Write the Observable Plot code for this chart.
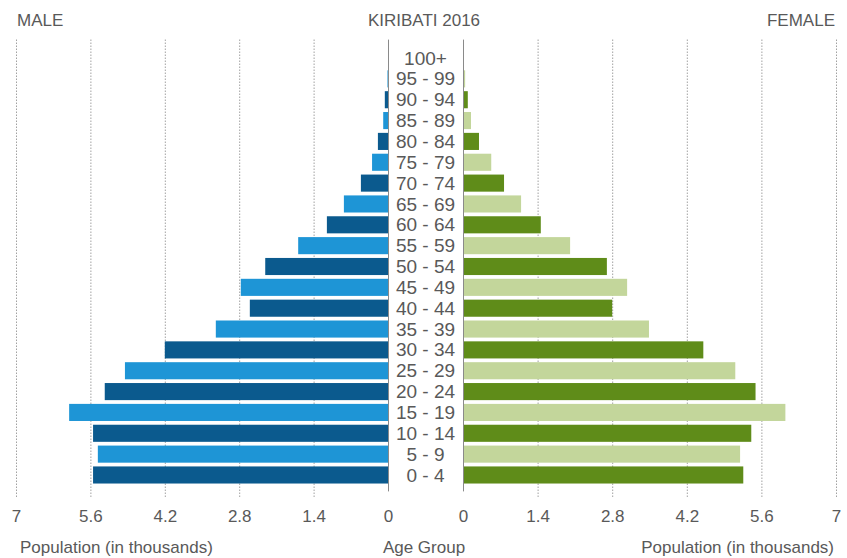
<!DOCTYPE html>
<html>
<head>
<meta charset="utf-8">
<script src="https://cdn.jsdelivr.net/npm/d3@7"></script>
<script src="https://cdn.jsdelivr.net/npm/@observablehq/plot@0.6"></script>
<style>
  html, body { margin: 0; padding: 0; background: #fff; }
  #wrap { position: relative; width: 847px; height: 558px; font-family: "Liberation Sans", Arial, sans-serif; color: #595959; overflow: hidden; }
  #wrap svg { position: absolute; left: 0; top: 0; }
  .lbl { position: absolute; font-size: 17px; white-space: nowrap; line-height: 1; }
</style>
</head>
<body>
<div id="wrap">
  <div class="lbl" style="left:17px; top:12px;">MALE</div>
  <div class="lbl" style="left:424px; top:12px; transform:translateX(-50%);">KIRIBATI 2016</div>
  <div class="lbl" style="right:12px; top:12px;">FEMALE</div>
  <div class="lbl" style="left:20px; top:539px;">Population (in thousands)</div>
  <div class="lbl" style="left:424px; top:539px; transform:translateX(-50%);">Age Group</div>
  <div class="lbl" style="right:13px; top:539px;">Population (in thousands)</div>
</div>
<script>
const ages = ["0 - 4","5 - 9","10 - 14","15 - 19","20 - 24","25 - 29","30 - 34","35 - 39","40 - 44","45 - 49","50 - 54","55 - 59","60 - 64","65 - 69","70 - 74","75 - 79","80 - 84","85 - 89","90 - 94","95 - 99","100+"];
const male = [5.55, 5.46, 5.55, 6.0, 5.33, 4.95, 4.2, 3.24, 2.6, 2.77, 2.31, 1.69, 1.15, 0.83, 0.51, 0.30, 0.19, 0.09, 0.06, 0.01, 0.0];
const female = [5.26, 5.2, 5.41, 6.05, 5.49, 5.11, 4.51, 3.49, 2.8, 3.08, 2.7, 2.01, 1.46, 1.09, 0.77, 0.53, 0.30, 0.15, 0.09, 0.04, 0.01];
const tickValues = [0, 1.4, 2.8, 4.2, 5.6, 7];
const tickLabels = ["0", "1.4", "2.8", "4.2", "5.6", "7"];

const maleColors = ["#0b5a8e", "#1e95d6"];
const femaleColors = ["#5f8c19", "#c3d69b"];

const maleData = ages.map((a, i) => ({age: a, value: male[i], shade: i % 2}));
const femaleData = ages.map((a, i) => ({age: a, value: female[i], shade: i % 2}));

const W = 847, H = 558;
const common = {
  width: W, height: H,
  marginTop: 47.6, marginBottom: 72.6,
  style: {background: "transparent", fontFamily: "'Liberation Sans', Arial, sans-serif", color: "#595959", overflow: "visible"},
  y: {domain: ages.slice().reverse(), paddingInner: 0.18, paddingOuter: 0.09, round: false, axis: null}
};

function panel(data, colors, opts) {
  return Plot.plot({
    ...common,
    marginLeft: opts.marginLeft, marginRight: opts.marginRight,
    x: {domain: [0, 7], reverse: opts.reverse, axis: null, label: null},
    color: {type: "ordinal", domain: [0, 1], range: colors},
    marks: [
      Plot.ruleX(tickValues.filter(t => t > 0), {x: d => d, stroke: "#8a8a8a", strokeWidth: 1, strokeDasharray: "1.2,1.8", insetTop: -8, insetBottom: -12}),
      Plot.barX(data, {x: "value", y: "age", fill: d => d.shade}),
      Plot.ruleX([0], {stroke: "#8a8a8a", strokeWidth: 1, insetTop: -8, insetBottom: -6}),
      Plot.axisX({ticks: tickValues, tickFormat: (d) => tickLabels[tickValues.indexOf(d)], tickSize: 0, tickPadding: 24, fontSize: 17, fill: "#595959", label: null}),
      ...(opts.extra || [])
    ]
  });
}

const left = panel(maleData, maleColors, {marginLeft: 16, marginRight: W - 388, reverse: true,
  extra: [Plot.text(ages, {y: d => d, frameAnchor: "right", dx: 37, textAnchor: "middle", fontSize: 19, fill: "#595959"})]});
const right = panel(femaleData, femaleColors, {marginLeft: 463, marginRight: W - 836, reverse: false});

const wrap = document.getElementById("wrap");
wrap.insertBefore(right, wrap.firstChild);
wrap.insertBefore(left, wrap.firstChild);
</script>
</body>
</html>
